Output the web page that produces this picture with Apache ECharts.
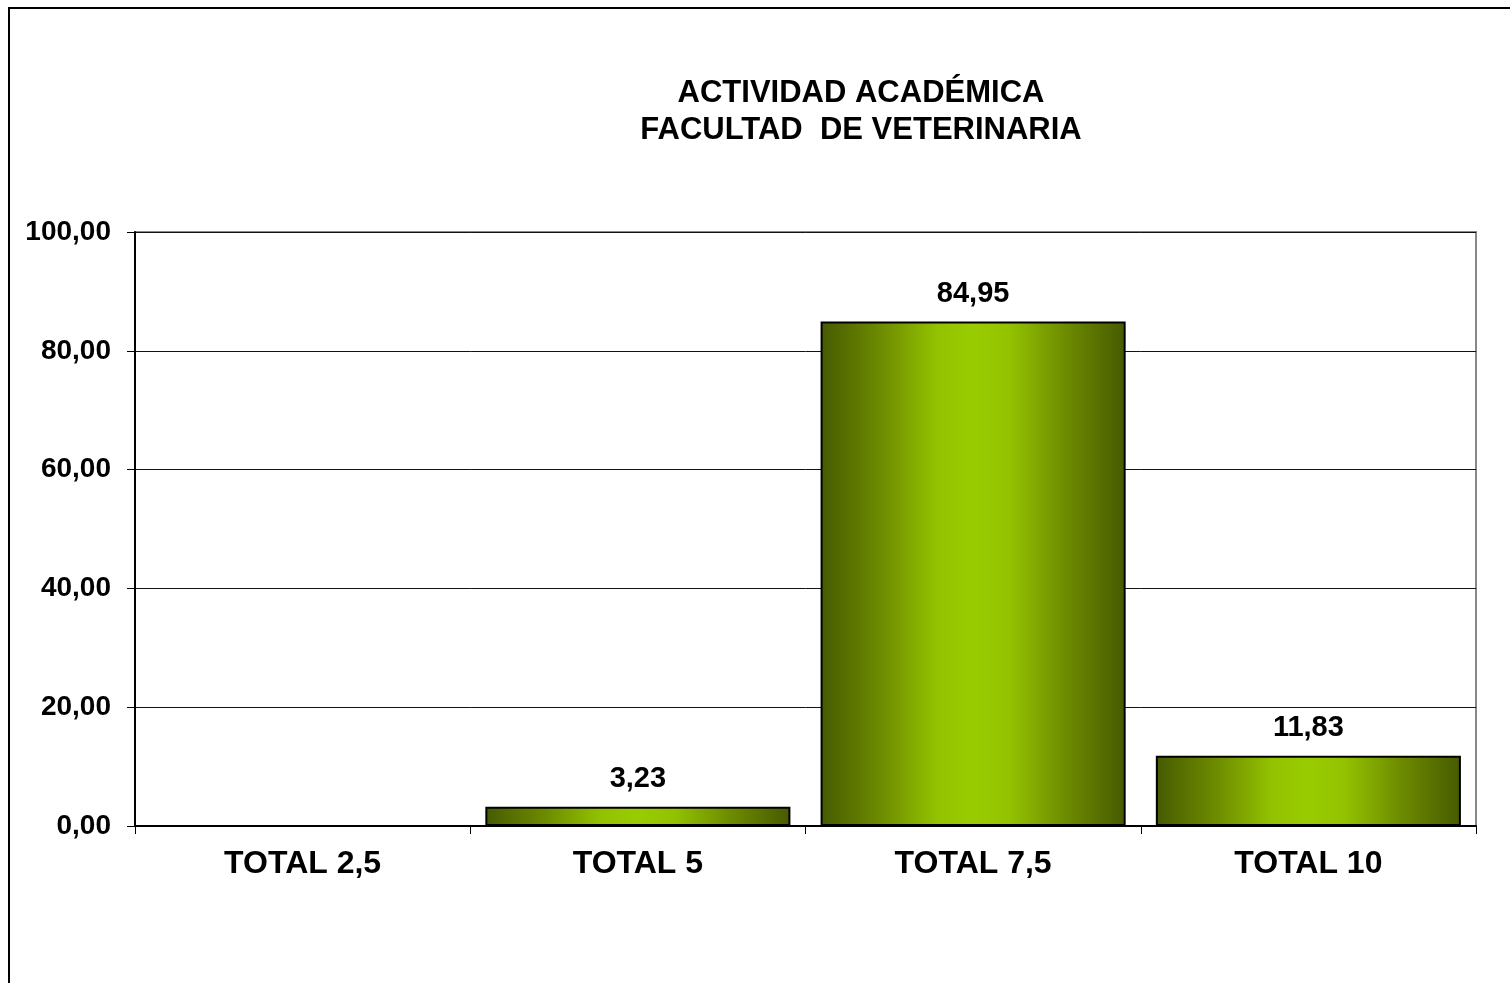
<!DOCTYPE html>
<html>
<head>
<meta charset="utf-8">
<script src="https://cdn.jsdelivr.net/npm/echarts@6/dist/echarts.min.js"></script>
<style>
html,body{margin:0;padding:0;background:#fff;}
#chart{width:1510px;height:983px;}
</style>
</head>
<body>
<div id="chart"></div>
<script>
var titleLines = ['ACTIVIDAD ACADÉMICA', 'FACULTAD  DE VETERINARIA'];
var categories = ['TOTAL 2,5', 'TOTAL 5', 'TOTAL 7,5', 'TOTAL 10'];
var values = [0, 3.23, 84.95, 11.83];
var yMin = 0, yMax = 100, yInterval = 20;

function fmt(v) { return Number(v).toFixed(2).replace('.', ','); }

var barGradient = {
  type: 'linear', x: 0, y: 0, x2: 1, y2: 0,
  colorStops: [
    {offset: 0, color: '#465a00'},
    {offset: 0.2, color: '#6e8c00'},
    {offset: 0.38, color: '#93c200'},
    {offset: 0.5, color: '#99cc00'},
    {offset: 0.62, color: '#93c200'},
    {offset: 0.8, color: '#6e8c00'},
    {offset: 1, color: '#465a00'}
  ]
};

var seriesData = values.map(function (v) {
  if (v === 0) return {value: v, itemStyle: {borderWidth: 0}, label: {show: false}};
  return {value: v};
});

var FONT = 'Liberation Sans, Arial, sans-serif';
var chart = echarts.init(document.getElementById('chart'), null, {renderer: 'canvas'});
chart.setOption({
  backgroundColor: '#fff',
  animation: false,
  textStyle: {fontFamily: FONT},
  title: {
    text: titleLines.join('\n'),
    left: 856, top: 70, textAlign: 'center',
    textStyle: {fontFamily: FONT, fontWeight: 'bold', fontSize: 31, lineHeight: 37, color: '#000'}
  },
  graphic: [{
    type: 'rect', shape: {x: 9, y: 8, width: 1540, height: 1020},
    style: {fill: null, stroke: '#000', lineWidth: 2}, silent: true
  }],
  grid: {left: 135, right: 34, top: 232, bottom: 157, show: true, borderColor: '#888', borderWidth: 2, backgroundColor: 'transparent'},
  xAxis: {
    type: 'category', data: categories,
    axisLine: {lineStyle: {color: '#000', width: 2}},
    axisTick: {show: true, alignWithLabel: false, length: 8, lineStyle: {color: '#000', width: 1}},
    axisLabel: {color: '#000', fontWeight: 'bold', fontSize: 32, margin: 22, fontFamily: FONT}
  },
  yAxis: {
    type: 'value', min: yMin, max: yMax, interval: yInterval,
    axisLine: {show: true, lineStyle: {color: '#000', width: 2}},
    axisTick: {show: true, length: 8, lineStyle: {color: '#000'}},
    axisLabel: {color: '#000', fontWeight: 'bold', fontSize: 28, margin: 24, formatter: fmt, fontFamily: FONT},
    splitLine: {show: true, lineStyle: {color: '#111', width: 1}}
  },
  series: [{
    type: 'bar', data: seriesData, barCategoryGap: '9%',
    itemStyle: {color: barGradient, borderColor: '#000', borderWidth: 2},
    label: {show: true, position: 'top', distance: 13, color: '#000', fontWeight: 'bold', fontSize: 29,
      fontFamily: FONT,
      formatter: function (p) { return fmt(p.value); }}
  }]
});
</script>
</body>
</html>
